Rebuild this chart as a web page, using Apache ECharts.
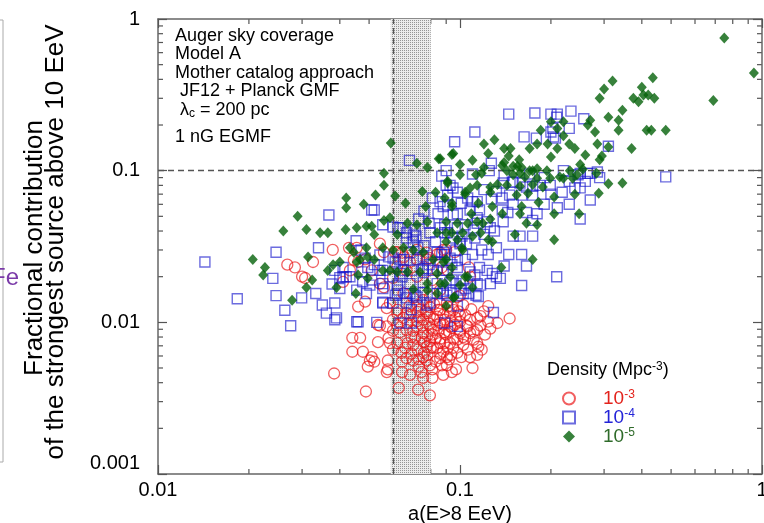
<!DOCTYPE html>
<html>
<head>
<meta charset="utf-8">
<script src="https://cdn.jsdelivr.net/npm/echarts@6/dist/echarts.min.js"></script>
<style>
html,body{margin:0;padding:0;background:#fff;}
#chart{width:764px;height:523px;}
</style>
</head>
<body>
<div id="chart"></div>
<script>
// ---------------- data ----------------
const seriesNames = ['1e-3', '1e-4', '1e-5'];
const xTickValues = [0.01, 0.1, 1];
const yTickValues = [0.001, 0.01, 0.1, 1];
const augerBand = [0.059, 0.08];
const refLevel = 0.1;

const redPoints = [
[0.0383,0.0046],[0.0488,0.0035],[0.044,0.0079],[0.0467,0.0079],[0.044,0.0064],[0.0477,0.0064],[0.0535,0.0074],[0.0586,0.0073],[0.051,0.0059],[0.052,0.0055],[0.0503,0.0056],[0.0495,0.0051],[0.0577,0.0056],[0.0577,0.0049],[0.0627,0.0037],[0.0727,0.0036],[0.0795,0.0033],[0.0683,0.0045],[0.0745,0.0047],[0.081,0.0043],[0.0643,0.0047],[0.0665,0.0058],[0.07,0.0056],[0.0776,0.0056],[0.0905,0.0052],[0.097,0.0049],[0.0935,0.0061],[0.106,0.0066],[0.114,0.0061],[0.115,0.0069],[0.108,0.0059],[0.101,0.0059],[0.088,0.0064],[0.0815,0.0068],[0.0725,0.0066],[0.0658,0.0068],[0.062,0.0073],[0.0633,0.0086],[0.069,0.0080],[0.0747,0.0079],[0.0795,0.0075],[0.0859,0.0073],[0.0927,0.0073],[0.098,0.0077],[0.1025,0.008],[0.108,0.0085],[0.114,0.0089],[0.108,0.0104],[0.114,0.0107],[0.10,0.0112],[0.095,0.0121],[0.1025,0.013],[0.0905,0.0134],[0.0843,0.0121],[0.0795,0.011],[0.0755,0.0104],[0.072,0.0094],[0.0665,0.0089],[0.062,0.0096],[0.0572,0.0094],[0.0535,0.0096],[0.06,0.0104],[0.0683,0.0112],[0.0725,0.0117],[0.0795,0.0126],[0.0859,0.0134],[0.0755,0.014],[0.07,0.0145],[0.089,0.0086],[0.0815,0.0089],[0.0755,0.0085],[0.0859,0.0099],[0.0927,0.0094],[0.10,0.0085],[0.106,0.0094],[0.114,0.0073],[0.1025,0.0071],[0.0905,0.0059],[0.0859,0.0058],[0.0755,0.0059],[0.0795,0.0052],[0.0643,0.0055],[0.07,0.0071],[0.0776,0.0069],[0.11,0.005],[0.062,0.0121],[0.0572,0.0124],[0.06,0.0066],
[0.0572,0.0047],[0.0755,0.0043],[0.0543,0.0095],[0.118,0.0066],[0.111,0.0077],
[0.124,0.0128],[0.146,0.0106],[0.133,0.0099],[0.124,0.0101],[0.117,0.011],[0.098,0.0147],[0.088,0.03],[0.096,0.029],[0.087,0.023],[0.107,0.023],[0.108,0.020],
[0.0268,0.024],[0.0284,0.023],[0.0326,0.025],[0.03,0.020],[0.0307,0.0196],[0.0379,0.030],[0.0429,0.031],[0.0445,0.0258],[0.046,0.025],[0.0485,0.026],[0.051,0.022],[0.0543,0.033],[0.056,0.029],[0.062,0.029],[0.0432,0.022],[0.041,0.0185],[0.046,0.0127],[0.0485,0.0137],[0.0543,0.018],[0.056,0.017],[0.0586,0.0134],[0.062,0.0115],[0.0653,0.027],[0.072,0.026],[0.0665,0.022],[0.072,0.020],[0.0776,0.026],[0.084,0.028],[0.09,0.030],[0.081,0.019],[0.0859,0.0163],[0.0795,0.0147],[0.0725,0.013],[0.0665,0.0115],[0.0776,0.0115],[0.0859,0.0121],[0.094,0.0127],[0.10,0.015],[0.0927,0.0115],[0.084,0.0096],[0.10,0.0101],[0.065,0.0155],[0.06,0.0196],[0.084,0.022],[0.091,0.022],
[0.0455,0.031],[0.061,0.029],[0.0643,0.0288],[0.072,0.030],[0.0776,0.0288],[0.0859,0.0288],[0.0795,0.0265],[0.0683,0.025],[0.062,0.0233],
[0.075,0.0095],[0.08,0.0092],[0.085,0.0088],[0.09,0.0083],[0.078,0.0082],[0.07,0.0088],[0.083,0.0078],[0.088,0.0097],[0.093,0.0102],[0.072,0.0102],[0.067,0.0098],[0.095,0.0078],[0.08,0.0068],[0.086,0.0062],[0.076,0.0063],[0.091,0.0068],[0.082,0.0105],[0.077,0.0118],[0.088,0.0112],[0.097,0.0107],[0.105,0.0095],[0.1,0.0088],[0.094,0.0092],
[0.073,0.0108],[0.079,0.0098],[0.084,0.0109],[0.089,0.0104],[0.092,0.0087],[0.096,0.0096],[0.099,0.0118],[0.104,0.0112],[0.086,0.0078],[0.081,0.0083],[0.076,0.0074],[0.071,0.0079],[0.067,0.0073],[0.084,0.0068],[0.089,0.0073],[0.095,0.0068],[0.098,0.0063],[0.092,0.0057],[0.083,0.0055],[0.087,0.0052],[0.078,0.0061],[0.073,0.0057],[0.104,0.0078],[0.111,0.0087],[0.117,0.0095],[0.121,0.0083],[0.126,0.0091],[0.12,0.0118],[0.109,0.0122],[0.091,0.0127],[0.082,0.0132],[0.074,0.0122],[0.068,0.0128],[0.065,0.0107],[0.06,0.0088],[0.058,0.0079],[0.064,0.0063],[0.069,0.0062],[0.088,0.0045],[0.094,0.0047],[0.081,0.0049],[0.073,0.0051]
];

const bluePoints = [
[0.145,0.236],[0.177,0.24],[0.20,0.236],[0.21,0.236],[0.233,0.247],[0.257,0.22],[0.23,0.19],[0.209,0.225],[0.203,0.19],[0.112,0.18],[0.096,0.155],[0.163,0.167],[0.179,0.164],[0.207,0.164],[0.20,0.18],[0.31,0.145],[0.127,0.112],[0.48,0.091],[0.27,0.096],[0.264,0.096],[0.285,0.098],
[0.068,0.117],[0.149,0.084],[0.166,0.078],[0.184,0.080],[0.25,0.096],[0.174,0.079],[0.24,0.077],[0.204,0.167],
[0.27,0.064],[0.25,0.048],[0.209,0.020],[0.16,0.0175],[0.166,0.0235],[0.16,0.028],[0.174,0.037],[0.158,0.037],[0.15,0.037],[0.145,0.028],[0.14,0.0235],[0.132,0.020],[0.136,0.0195],[0.128,0.021],[0.126,0.018],[0.123,0.022],[0.116,0.023],[0.112,0.0205],[0.117,0.0176],[0.108,0.0176],[0.107,0.0155],[0.115,0.0148],
[0.101,0.0163],[0.094,0.019],[0.098,0.0255],[0.089,0.028],[0.097,0.030],[0.10,0.033],[0.112,0.036],[0.111,0.0406],[0.126,0.042],[0.139,0.046],[0.123,0.046],[0.114,0.049],[0.11,0.0625],[0.101,0.061],[0.114,0.0625],[0.138,0.066],[0.146,0.069],[0.174,0.069],[0.139,0.083],[0.15,0.084],[0.158,0.083],[0.16,0.069],[0.138,0.055],[0.144,0.053],[0.166,0.053],[0.18,0.052],[0.174,0.047],[0.199,0.080],[0.218,0.072],[0.25,0.077],[0.246,0.094],[0.09,0.080],[0.098,0.072],[0.095,0.051],[0.089,0.044],[0.089,0.039],[0.129,0.0116],[0.098,0.0128],[0.088,0.016],
[0.0143,0.025],[0.0183,0.0143],[0.0246,0.029],[0.024,0.0195],[0.0246,0.015],[0.0263,0.012],[0.0275,0.0095],[0.0299,0.0145],[0.0333,0.0155],[0.034,0.031],[0.0368,0.051],[0.035,0.013],[0.0361,0.0115],[0.0385,0.0134],[0.039,0.0107],[0.0377,0.0179],[0.041,0.020],[0.042,0.020],[0.046,0.0101],[0.052,0.055],[0.0453,0.0345],[0.0495,0.023],[0.0476,0.0185],[0.049,0.0155],[0.0543,0.022],[0.0555,0.0167],[0.06,0.0134],[0.0623,0.042],[0.0665,0.036],[0.07,0.0377],[0.0725,0.031],[0.0555,0.0136],[0.0623,0.0163],[0.0665,0.0145],[0.072,0.0147],[0.069,0.0121],[0.0795,0.0134],[0.088,0.0155],[0.0927,0.080],[0.098,0.052],[0.086,0.042],[0.091,0.039],[0.10,0.034],[0.087,0.028],[0.0927,0.0265],[0.088,0.022],[0.078,0.0226],[0.0755,0.022],[0.065,0.022],[0.088,0.058],[0.076,0.054],[0.081,0.066],[0.097,0.018],[0.104,0.0167],[0.06,0.0265],[0.0643,0.020],[0.053,0.010],[0.0633,0.0099],[0.069,0.0099],
[0.051,0.055],[0.0555,0.044],[0.06,0.0425],[0.0633,0.042],[0.0665,0.039],[0.071,0.0406],[0.0715,0.037],[0.0795,0.039],[0.0846,0.052],[0.091,0.0594],[0.0859,0.0625],[0.091,0.069],[0.0948,0.0768],[0.106,0.066],[0.108,0.0551],[0.114,0.045],[0.098,0.042],[0.1015,0.037],[0.089,0.029],[0.084,0.029],[0.0755,0.027],[0.0683,0.0288],[0.0633,0.0258],[0.061,0.025],[0.0555,0.022],[0.0543,0.0278],[0.0485,0.0265],[0.041,0.023],[0.0385,0.022],[0.04,0.0197],[0.0432,0.020],[0.0473,0.0215],[0.051,0.019],[0.0586,0.020],[0.0633,0.021],[0.069,0.022],[0.0755,0.0226],[0.0815,0.022],[0.0905,0.022],[0.098,0.023],[0.108,0.0215],[0.114,0.018],[0.1025,0.019],[0.0927,0.0183],[0.084,0.018],[0.0755,0.0183],[0.0683,0.018],[0.062,0.0176],[0.0555,0.018],[0.0503,0.0176],[0.0455,0.0163],[0.04,0.0167],[0.062,0.0155],[0.0683,0.0155],[0.0755,0.0157],[0.084,0.0155],[0.0927,0.0163],[0.1025,0.0155],[0.113,0.0151],
[0.0555,0.0134],[0.0665,0.0134],[0.0776,0.013],[0.0905,0.0151],[0.089,0.0099],[0.098,0.0094],[0.071,0.0151],[0.061,0.0151],[0.0385,0.0104],[0.0455,0.0101],
[0.072,0.026],[0.079,0.024],[0.086,0.025],[0.094,0.024],[0.104,0.026],[0.11,0.028],[0.118,0.03],[0.124,0.028],[0.132,0.031],[0.105,0.033],[0.095,0.036],[0.083,0.034],[0.076,0.032],[0.07,0.034],[0.065,0.026],[0.058,0.027],[0.052,0.024],[0.047,0.03],[0.079,0.045],[0.073,0.048],[0.104,0.044],[0.12,0.038],[0.13,0.04],[0.116,0.055],[0.127,0.065],[0.12,0.075],[0.132,0.073],[0.15,0.06],[0.19,0.06],[0.21,0.057],[0.23,0.06],[0.2,0.07],[0.19,0.09],[0.23,0.085],[0.26,0.085],[0.29,0.09],[0.22,0.1],[0.17,0.095],[0.14,0.093],[0.125,0.1],[0.11,0.095],[0.09,0.1],[0.087,0.092]
];

const greenPoints = [
[0.75,0.75],[0.94,0.44],[0.69,0.29],
[0.32,0.39],[0.30,0.345],[0.29,0.30],[0.435,0.41],[0.40,0.355],[0.405,0.315],[0.42,0.315],[0.375,0.30],[0.39,0.285],[0.44,0.30],
[0.345,0.25],[0.31,0.225],[0.335,0.215],[0.335,0.185],[0.415,0.185],[0.43,0.185],[0.48,0.185],
[0.27,0.215],[0.265,0.20],[0.28,0.18],
[0.37,0.14],[0.285,0.15],[0.31,0.143],[0.295,0.125],[0.29,0.118],[0.26,0.127],
[0.185,0.185],[0.20,0.21],[0.21,0.19],[0.22,0.17],[0.22,0.21],[0.195,0.15],[0.18,0.15],[0.23,0.15],[0.24,0.14],[0.25,0.11],[0.20,0.123],[0.21,0.14],[0.17,0.14],
[0.13,0.16],[0.12,0.15],[0.124,0.13],[0.14,0.14],[0.147,0.14],[0.11,0.117],[0.095,0.13],[0.10,0.11],[0.12,0.105],[0.145,0.125],[0.157,0.118],[0.155,0.107],[0.16,0.105],[0.17,0.10],[0.18,0.103],[0.15,0.107],[0.14,0.113],[0.086,0.12],
[0.113,0.094],[0.138,0.108],[0.143,0.10],[0.15,0.094],[0.158,0.096],[0.164,0.091],[0.174,0.10],[0.18,0.089],[0.199,0.089],[0.214,0.091],[0.231,0.10],[0.244,0.094],[0.255,0.102],[0.283,0.096],[0.31,0.082],[0.345,0.083],[0.194,0.10],[0.114,0.080],[0.126,0.078],[0.143,0.080],[0.158,0.079],[0.174,0.081],[0.188,0.078],
[0.10,0.094],[0.118,0.096],[0.22,0.089],[0.236,0.089],[0.288,0.071],[0.24,0.070],[0.205,0.067],[0.182,0.062],[0.168,0.071],[0.154,0.069],[0.16,0.058],[0.133,0.081],[0.126,0.072],[0.108,0.077],[0.104,0.070],[0.091,0.083],[0.089,0.066],[0.094,0.058],[0.109,0.052],[0.115,0.061],[0.128,0.058],[0.138,0.052],[0.158,0.052],[0.205,0.052],[0.248,0.052],[0.126,0.048],[0.119,0.045],[0.166,0.045],[0.18,0.044],[0.09,0.046],[0.098,0.045],[0.106,0.045],[0.114,0.046],[0.117,0.039],[0.094,0.039],[0.102,0.039],[0.11,0.037],[0.124,0.035],[0.128,0.034],[0.152,0.038],[0.205,0.035],[0.09,0.034],[0.098,0.035],[0.102,0.030],[0.09,0.026],[0.094,0.023],[0.106,0.020],[0.11,0.017],[0.096,0.0147],[0.09,0.0128],[0.089,0.018],[0.174,0.026],[0.137,0.023],
[0.059,0.152],[0.072,0.112],[0.078,0.105],[0.085,0.12],[0.094,0.128],[0.056,0.096],
[0.056,0.080],[0.0525,0.069],[0.042,0.066],[0.042,0.057],[0.048,0.060],[0.061,0.068],[0.066,0.061],[0.075,0.073],[0.083,0.072],[0.077,0.058],[0.091,0.085],[0.104,0.072],[0.094,0.061],
[0.029,0.050],[0.026,0.040],[0.031,0.041],[0.0344,0.039],[0.0365,0.039],[0.0418,0.041],[0.0455,0.042],[0.049,0.043],[0.051,0.043],[0.052,0.038],[0.056,0.047],[0.0586,0.049],[0.062,0.038],[0.067,0.045],[0.072,0.044],[0.078,0.046],[0.084,0.039],[0.09,0.039],
[0.0555,0.031],[0.049,0.031],[0.0467,0.026],[0.0445,0.029],[0.0455,0.025],[0.040,0.025],[0.038,0.024],[0.0365,0.022],[0.0432,0.031],[0.0495,0.027],[0.052,0.026],[0.0555,0.022],[0.06,0.030],[0.065,0.031],[0.07,0.030],[0.0755,0.029],[0.0815,0.026],[0.088,0.025],[0.1015,0.031],[0.0586,0.022],[0.062,0.0215],[0.067,0.0215],[0.0737,0.0215],[0.084,0.021],[0.0927,0.020],[0.104,0.020],[0.0495,0.0195],[0.046,0.0205],[0.039,0.017],[0.0324,0.019],[0.031,0.017],[0.0314,0.027],[0.0226,0.023],[0.0223,0.0205],[0.0206,0.026],[0.0278,0.014],[0.0452,0.0155],[0.078,0.018],[0.086,0.018],[0.095,0.0145],[0.10,0.0176],[0.084,0.0155],[0.078,0.0163],[0.07,0.0165]
];

// ---------------- styling ----------------
const FONT = '"Liberation Sans", Arial, Helvetica, sans-serif';
const RED = 'rgba(235,20,22,0.85)';
const BLUE = 'rgba(25,25,205,0.8)';
const GREEN = '#05620a';
const RED_T = '#e3231c';
const BLUE_T = '#2323d8';
const GREEN_T = '#2f6b2a';

// dotted pattern for the band
const pc = document.createElement('canvas');
pc.width = 2; pc.height = 2;
const pctx = pc.getContext('2d');
pctx.fillStyle = '#ececec'; pctx.fillRect(0, 0, 2, 2);
pctx.fillStyle = '#959595'; pctx.fillRect(0, 0, 1, 1);

const chart = echarts.init(document.getElementById('chart'), null, {renderer: 'canvas'});

function fmt(v) { return String(parseFloat(Number(v).toPrecision(2))); }

const axisLineStyle = {color: '#666', width: 1.5};
const tickStyle = {color: '#555', width: 1.2};

const legendLabels = {'1e-3': '-3', '1e-4': '-4', '1e-5': '-5'};

const option = {
  animation: false,
  backgroundColor: '#fff',
  grid: {left: 158, right: 2, top: 19, bottom: 49, containLabel: false, outerBoundsMode: 'none'},
  xAxis: [
    {type: 'log', logBase: 10, min: xTickValues[0], max: xTickValues[xTickValues.length - 1], position: 'bottom',
     name: 'a(E>8 EeV)', nameLocation: 'middle', nameGap: 27,
     nameTextStyle: {fontFamily: FONT, fontSize: 20, color: '#000'},
     axisLine: {show: true, onZero: false, lineStyle: axisLineStyle},
     axisTick: {show: true, inside: true, length: 9, lineStyle: tickStyle},
     axisLabel: {formatter: fmt, fontFamily: FONT, fontSize: 20, color: '#000', margin: 6, showMinLabel: true, showMaxLabel: true, hideOverlap: false},
     splitLine: {show: false}},
    {type: 'log', logBase: 10, min: xTickValues[0], max: xTickValues[xTickValues.length - 1], position: 'top',
     axisLine: {show: true, onZero: false, lineStyle: axisLineStyle},
     axisTick: {show: true, inside: true, length: 9, lineStyle: tickStyle},
     axisLabel: {show: false}, splitLine: {show: false}}
  ],
  yAxis: [
    {type: 'log', logBase: 10, min: yTickValues[0], max: yTickValues[yTickValues.length - 1], position: 'left',
     axisLine: {show: true, onZero: false, lineStyle: axisLineStyle},
     axisTick: {show: true, inside: true, length: 9, lineStyle: tickStyle},
     axisLabel: {formatter: function (v) { const s = fmt(v); return v < 0.002 ? '{lo|' + s + '}' : s; },
                 fontFamily: FONT, fontSize: 20, color: '#000', margin: 18,
                 rich: {lo: {fontFamily: FONT, fontSize: 20, color: '#000', padding: [0, 0, 22, 0]}}},
     splitLine: {show: false}},
    {type: 'log', logBase: 10, min: yTickValues[0], max: yTickValues[yTickValues.length - 1], position: 'right',
     axisLine: {show: true, onZero: false, lineStyle: axisLineStyle},
     axisTick: {show: true, inside: true, length: 9, lineStyle: tickStyle},
     axisLabel: {show: false}, splitLine: {show: false}}
  ],
  legend: {
    orient: 'vertical', left: 557, top: 384, itemWidth: 12, itemHeight: 12, itemGap: 0,
    selectedMode: false,
    data: [
      {name: seriesNames[0], textStyle: {color: RED_T}},
      {name: seriesNames[1], textStyle: {color: BLUE_T}},
      {name: seriesNames[2], textStyle: {color: GREEN_T}}
    ],
    formatter: function (n) { return '{b|10}{s|' + legendLabels[n] + '}'; },
    textStyle: {fontFamily: FONT, fontSize: 19,
      rich: {b: {fontFamily: FONT, fontSize: 19, padding: [0, 0, 0, 23]}, s: {fontFamily: FONT, fontSize: 12, verticalAlign: 'top'}}}
  },
  series: [
    {type: 'scatter', name: seriesNames[0], data: redPoints, symbol: 'circle', symbolSize: 11,
     itemStyle: {color: 'rgba(255,255,255,0)', borderColor: RED, borderWidth: 1.3},
     emphasis: {disabled: true}, silent: true, z: 3,
     markArea: {silent: true, itemStyle: {color: {image: pc, repeat: 'repeat'}, opacity: 1},
       data: [[{xAxis: augerBand[0]}, {xAxis: augerBand[1]}]]},
     markLine: {silent: true, symbol: 'none', label: {show: false},
       lineStyle: {type: [6, 4], color: '#555', width: 1.3},
       data: [{yAxis: refLevel}, {xAxis: augerBand[0]}]}},
    {type: 'scatter', name: seriesNames[1], data: bluePoints, symbol: 'rect', symbolSize: 10,
     itemStyle: {color: 'rgba(255,255,255,0)', borderColor: BLUE, borderWidth: 1.4},
     emphasis: {disabled: true}, silent: true, z: 4},
    {type: 'scatter', name: seriesNames[2], data: greenPoints, symbol: 'diamond', symbolSize: [10, 11],
     itemStyle: {color: GREEN},
     emphasis: {disabled: true}, silent: true, z: 5}
  ],
  graphic: [
    {type: 'rect', id: 'leftbox', shape: {x: -20, y: 20, width: 23, height: 442},
     style: {fill: 'none', stroke: '#aaa', lineWidth: 1}, silent: true},
    {type: 'text', id: 'fe', x: 19, y: 278, silent: true,
     style: {text: 'Fe', font: '24px ' + FONT, fill: '#7a3aa8', align: 'right', verticalAlign: 'middle', textAlign: 'right', textVerticalAlign: 'middle'}},
    {type: 'text', id: 'yt1', x: 35, y: 248, rotation: Math.PI / 2, silent: true,
     style: {text: 'Fractional contribution', font: '26px ' + FONT, fill: '#000', align: 'center', verticalAlign: 'middle', textAlign: 'center', textVerticalAlign: 'middle'}},
    {type: 'text', id: 'yt2', x: 56, y: 242, rotation: Math.PI / 2, silent: true,
     style: {text: 'of the strongest source above 10 EeV', font: '26px ' + FONT, fill: '#000', align: 'center', verticalAlign: 'middle', textAlign: 'center', textVerticalAlign: 'middle'}},
    {type: 'text', id: 'i1', left: 175, top: 27, silent: true, style: {text: 'Auger sky coverage', font: '18px ' + FONT, fill: '#000'}},
    {type: 'text', id: 'i2', left: 175, top: 45, silent: true, style: {text: 'Model A', font: '18px ' + FONT, fill: '#000'}},
    {type: 'text', id: 'i3', left: 175, top: 64, silent: true, style: {text: 'Mother catalog approach', font: '18px ' + FONT, fill: '#000'}},
    {type: 'text', id: 'i4', left: 175, top: 82, silent: true, style: {text: ' JF12 + Planck GMF', font: '18px ' + FONT, fill: '#000'}},
    {type: 'text', id: 'i5', left: 175, top: 101, silent: true,
     style: {text: ' {n|λ}{c|c}{n| = 200 pc}', font: '18px ' + FONT, fill: '#000',
       rich: {n: {fontFamily: FONT, fontSize: 18, fill: '#000', color: '#000'}, c: {fontFamily: FONT, fontSize: 12, color: '#000', fill: '#000', verticalAlign: 'bottom', padding: [8, 0, 0, 0]}}}},
    {type: 'text', id: 'i6', left: 175, top: 128, silent: true, style: {text: '1 nG EGMF', font: '18px ' + FONT, fill: '#000'}},
    {type: 'text', id: 'legtitle', left: 547, top: 361, silent: true,
     style: {text: '{n|Density (Mpc}{s|-3}{n|)}', font: '18px ' + FONT, fill: '#000',
       rich: {n: {fontFamily: FONT, fontSize: 18, color: '#000'}, s: {fontFamily: FONT, fontSize: 12, color: '#000', verticalAlign: 'top'}}}}
  ]
};
chart.setOption(option);

// minor ticks (2..9 per decade) positioned through the axes' own scales
(function addMinorTicks() {
  const xl = chart.convertToPixel({xAxisIndex: 0}, xTickValues[0]);
  const xr = chart.convertToPixel({xAxisIndex: 0}, xTickValues[xTickValues.length - 1]);
  const yb = chart.convertToPixel({yAxisIndex: 0}, yTickValues[0]);
  const yt = chart.convertToPixel({yAxisIndex: 0}, yTickValues[yTickValues.length - 1]);
  const L = 5;
  const g = [];
  let k = 0;
  for (let d = 0; d < xTickValues.length - 1; d++) {
    for (let m = 2; m <= 9; m++) {
      const px = chart.convertToPixel({xAxisIndex: 0}, xTickValues[d] * m);
      g.push({type: 'line', id: 'mt' + (k++), silent: true, shape: {x1: px, y1: yb, x2: px, y2: yb - L}, style: {stroke: '#555', lineWidth: 1.2}});
      g.push({type: 'line', id: 'mt' + (k++), silent: true, shape: {x1: px, y1: yt, x2: px, y2: yt + L}, style: {stroke: '#555', lineWidth: 1.2}});
    }
  }
  for (let d = 0; d < yTickValues.length - 1; d++) {
    for (let m = 2; m <= 9; m++) {
      const py = chart.convertToPixel({yAxisIndex: 0}, yTickValues[d] * m);
      g.push({type: 'line', id: 'mt' + (k++), silent: true, shape: {x1: xl, y1: py, x2: xl + L, y2: py}, style: {stroke: '#555', lineWidth: 1.2}});
      g.push({type: 'line', id: 'mt' + (k++), silent: true, shape: {x1: xr, y1: py, x2: xr - L, y2: py}, style: {stroke: '#555', lineWidth: 1.2}});
    }
  }
  chart.setOption({graphic: g});
})();
</script>
</body>
</html>
